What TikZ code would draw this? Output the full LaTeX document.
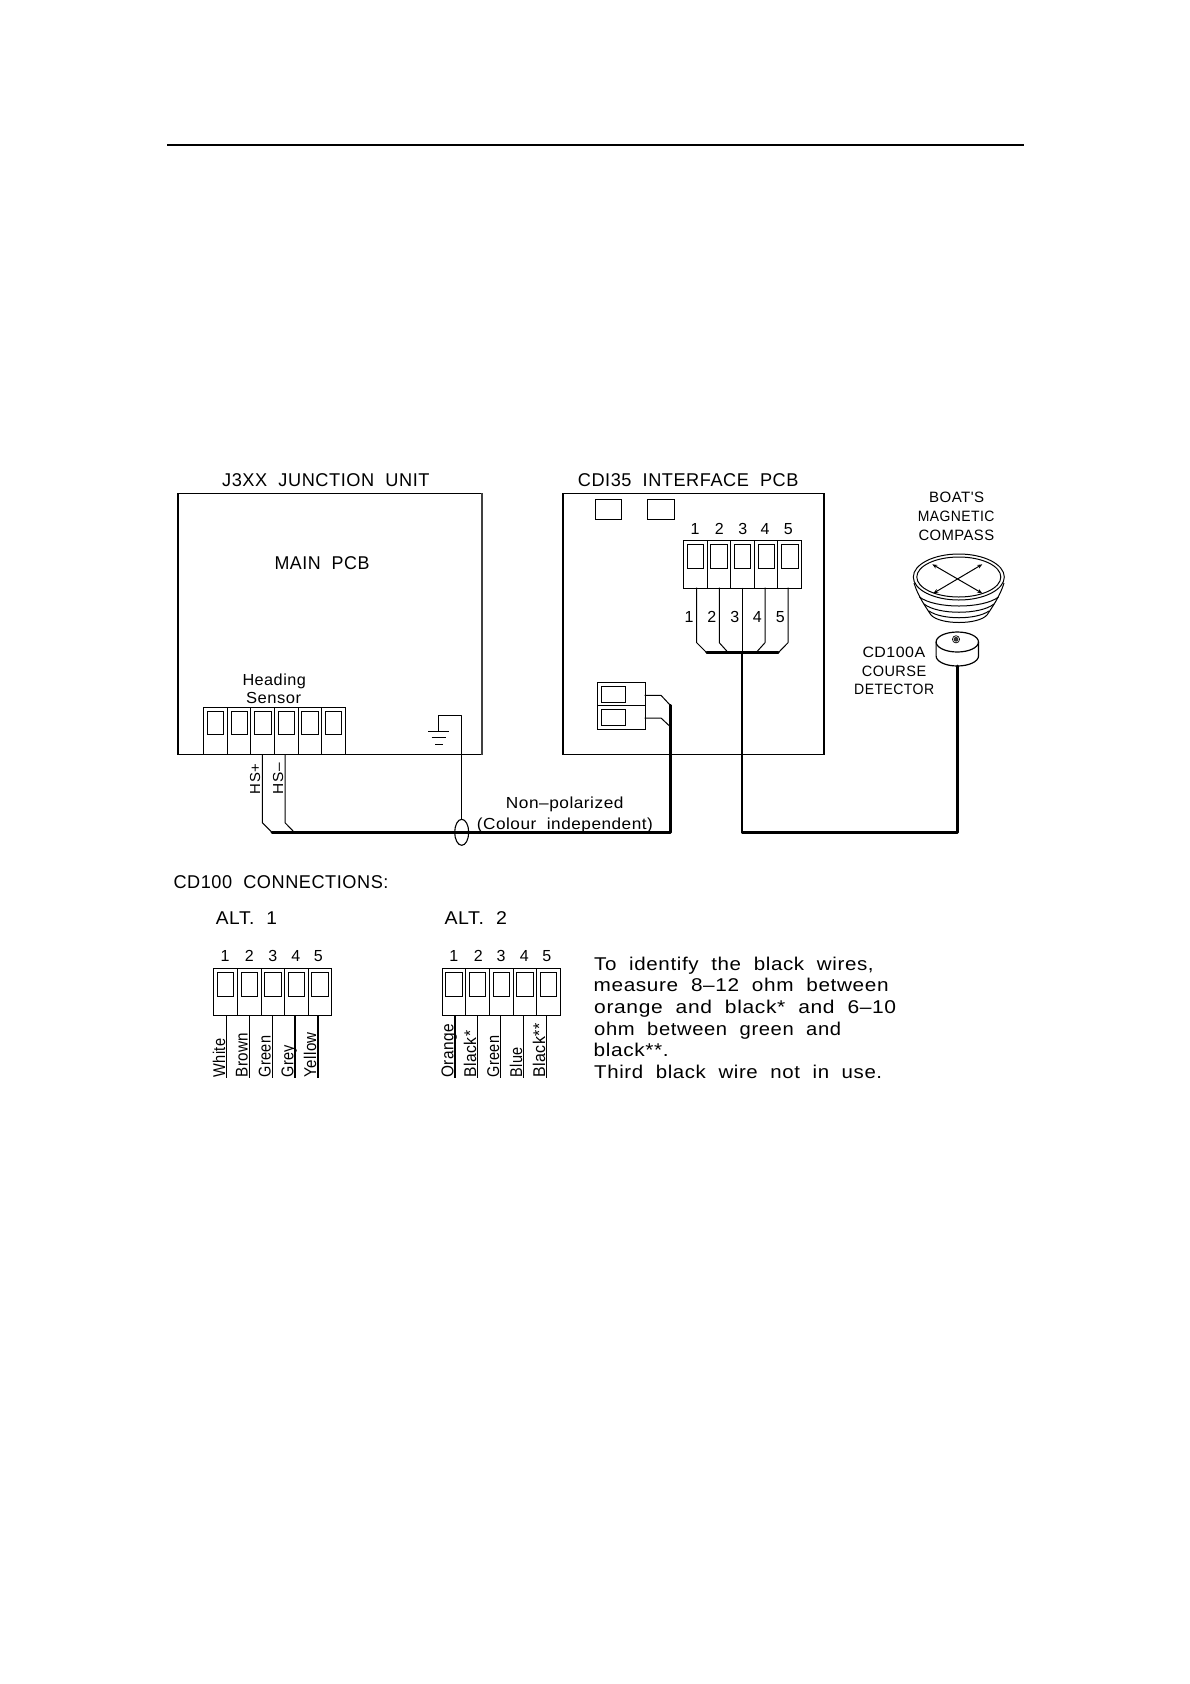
\documentclass[tikz,border=0pt]{standalone}
\usepackage{fontspec}
\usepackage{graphicx}
\usetikzlibrary{arrows.meta,shapes.geometric}
\newfontfamily\cadfont[LetterSpace=3]{Liberation Sans}
\newcommand{\fitw}[2]{\resizebox{#1pt}{\height}{\cadfont #2}}
\tikzset{
  thin wire/.style={line width=1pt,line join=round},
  thick wire/.style={line width=2.6pt,line join=round,line cap=round},
  board/.style={draw,line width=1.2pt,inner sep=0pt,anchor=north west},
  cell/.style={draw,line width=1pt,inner sep=0pt,anchor=north west},
  lbl/.style={inner sep=0pt,anchor=base west,font=\fontsize{16}{16}\selectfont},
  lblbig/.style={lbl,font=\fontsize{18.5}{18.5}\selectfont},
  lblsm/.style={lbl,font=\fontsize{15}{15}\selectfont},
  lblrot/.style={lbl,rotate=90,font=\fontsize{17}{17}\selectfont},
  lblhs/.style={lbl,rotate=90,font=\fontsize{14.5}{14.5}\selectfont},
  num/.style={inner sep=0pt,anchor=base,font=\cadfont\fontsize{16}{16}\selectfont},
}
\newcommand{\strip}[4]{%
  \foreach \i in {1,...,#4}{%
    \pgfmathsetmacro{\cx}{#2+(\i-1)*23.6}
    \node[cell,minimum width=23.6pt,minimum height=47.4pt] (#1-\i) at (\cx,#3) {};
    \pgfmathsetmacro{\ix}{\cx+3.7}
    \pgfmathsetmacro{\iy}{#3+3.9}
    \node[cell,minimum width=16.4pt,minimum height=24pt] (#1-in\i) at (\ix,\iy) {};
  }%
}
\begin{document}
\begin{tikzpicture}[x=1pt,y=-1pt]
\useasboundingbox (0,0) rectangle (1190,1684);
\fill[white] (0,0) rectangle (1190,1684);

% top rule
\coordinate (ruleL) at (167,144.7);
\coordinate (ruleR) at (1024,144.7);
\draw[line width=2pt] (ruleL) -- (ruleR);

% boards
\node[board,minimum width=303.7pt,minimum height=261pt] (j3xx) at (177.3,493) {};
\draw[line width=1.9pt,black!75] (j3xx.north east) -- (j3xx.south east);
\node[board,minimum width=261pt,minimum height=261pt] (cdi) at (562.3,493) {};
\node[cell,minimum width=26.3pt,minimum height=20pt] (cdiA) at (595,499.3) {};
\node[cell,minimum width=26.4pt,minimum height=20pt] (cdiB) at (647.3,499.3) {};

% titles
\node[lblbig] (t1) at (222,486.7) {\fitw{207.3}{J3XX\ \ JUNCTION\ \ UNIT}};
\node[lblbig] (t2) at (577.7,486.7) {\fitw{220.6}{CDI35\ \ INTERFACE\ \ PCB}};
\node[lblbig] (t3) at (274.3,569) {\fitw{95}{MAIN\ \ PCB}};
\node[lbl] (t4) at (242.3,685) {\fitw{63.4}{Heading}};
\node[lbl] (t5) at (246,703.3) {\fitw{55}{Sensor}};

% terminal strips, J3XX (six-way)
\foreach \i in {1,...,6}{
  \pgfmathsetmacro{\cx}{203.3+(\i-1)*23.55}
  \pgfmathsetmacro{\ix}{\cx+3.7}
  \node[cell,minimum width=23.55pt,minimum height=47pt] (hs-\i) at (\cx,707) {};
  \node[cell,minimum width=16.4pt,minimum height=23.7pt] (hs-in\i) at (\ix,710.7) {};
}
\strip{cd}{683}{540.3}{5}
\strip{aa}{213.3}{968}{5}
\strip{bb}{441.7}{968}{5}

% small 2-way connector
\node[cell,minimum width=47.4pt,minimum height=23pt] (sq1) at (597.3,682.3) {};
\node[cell,minimum width=47.4pt,minimum height=24pt] (sq2) at (597.3,705.3) {};
\node[cell,minimum width=24pt,minimum height=16pt] (sq1i) at (601,686.3) {};
\node[cell,minimum width=24pt,minimum height=16pt] (sq2i) at (601,709.3) {};

% ground
\coordinate (g0) at (438.3,731);
\coordinate (g1) at (438.3,715);
\coordinate (g2) at (461.7,715);
\node[draw,ellipse,line width=1.1pt,minimum width=14pt,minimum height=26pt,inner sep=0pt] (gland) at (461.7,832.3) {};
\draw[thin wire] (g0) -- (g1) -- (g2) -- (gland.north);
\coordinate (ga1) at (428,731); \coordinate (ga2) at (449.3,731);
\coordinate (gb1) at (431.7,737.3); \coordinate (gb2) at (446,737.3);
\coordinate (gc1) at (435.3,744); \coordinate (gc2) at (442.7,744);
\draw[thin wire] (ga1) -- (ga2) (gb1) -- (gb2) (gc1) -- (gc2);

% HS wires and trunk
\coordinate (hp0) at (262.3,754); \coordinate (hp1) at (262.3,822.7); \coordinate (hp2) at (272,832.3);
\coordinate (hm0) at (285,754);   \coordinate (hm1) at (285,822.7);   \coordinate (hm2) at (294.3,832.3);
\draw[thin wire] (hp0) -- (hp1) -- (hp2);
\draw[thin wire] (hm0) -- (hm1) -- (hm2);
\coordinate (tc) at (670.3,832.3);
\coordinate (tt) at (670.3,705.3);
\draw[thick wire] (hp2) -- (tc) -- (tt);
\node[lblhs] (hsp) at (260,794.3) {\fitw{30.3}{HS+}};
\node[lblhs] (hsm) at (283,794.3) {\fitw{31}{HS–}};

% 2-way connector wires
\coordinate (sa0) at (644.7,695.3); \coordinate (sa1) at (661,695.3);
\coordinate (sb0) at (644.7,718);   \coordinate (sb1) at (661,718); \coordinate (sb2) at (670.3,726.7);
\draw[thin wire] (sa0) -- (sa1) -- (tt);
\draw[thin wire] (sb0) -- (sb1) -- (sb2);

% CDI strip wires
\coordinate (c1a) at (696.7,587.7); \coordinate (c1b) at (696.7,642.7); \coordinate (c1c) at (706.7,652.7);
\coordinate (c2a) at (719.3,587.7); \coordinate (c2b) at (719.3,642.7); \coordinate (c2c) at (728.3,652.7);
\coordinate (c3a) at (742,587.7);   \coordinate (c3c) at (742,652.7);
\coordinate (c4a) at (765,587.7);   \coordinate (c4b) at (765,642.7);   \coordinate (c4c) at (756,652.7);
\coordinate (c5a) at (788,587.7);   \coordinate (c5b) at (788,642.7);   \coordinate (c5c) at (778.3,652.7);
\draw[thin wire] (c1a) -- (c1b) -- (c1c);
\draw[thin wire] (c2a) -- (c2b) -- (c2c);
\draw[thin wire] (c3a) -- (c3c);
\draw[thin wire] (c4a) -- (c4b) -- (c4c);
\draw[thin wire] (c5a) -- (c5b) -- (c5c);
\draw[thick wire] (c1c) -- (c5c);
\coordinate (d1) at (742,832.3);
\coordinate (d2) at (957.3,832.3);
\coordinate (d3) at (957.3,666);
\draw[thick wire] (c3c) -- (d1) -- (d2) -- (d3);

% numbers
\node[num] (n1) at (695,534) {1};
\node[num] (n2) at (719.3,534) {2};
\node[num] (n3) at (742.7,534) {3};
\node[num] (n4) at (765,534) {4};
\node[num] (n5) at (788.3,534) {5};
\node[num] (m1) at (689,622.7) {1};
\node[num] (m2) at (711.7,622.7) {2};
\node[num] (m3) at (734.7,622.7) {3};
\node[num] (m4) at (757.3,622.7) {4};
\node[num] (m5) at (780.3,622.7) {5};

\node[lbl] (np) at (505.7,808.3) {\fitw{117.6}{Non–polarized}};
\node[lbl] (ci) at (476.7,829) {\fitw{176}{(Colour\ \ independent)}};

% compass
\node[lblsm] (b1) at (929,502.7) {\fitw{55}{BOAT'S}};
\node[lblsm] (b2) at (917.7,521.7) {\fitw{76.6}{MAGNETIC}};
\node[lblsm] (b3) at (918.3,540.3) {\fitw{75.7}{COMPASS}};
\coordinate (cc) at (958.8,577);
\draw[line width=1pt] (cc) ellipse [x radius=45.5,y radius=23];
\draw[line width=1pt] (cc) ellipse [x radius=42,y radius=20];
\draw[line width=1pt] (914,583) .. controls (918,596) and (925,606) .. (931,615) .. controls (940,625) and (978,625) .. (987,615) .. controls (993,606) and (1000,596) .. (1004,583);
\draw[line width=1pt] (919.5,597) .. controls (935,609) and (983,609) .. (998.5,597);
\draw[line width=1pt] (924,604) .. controls (938,615) and (980,615) .. (994,604);
\draw[line width=1pt] (929,611) .. controls (942,620) and (976,620) .. (989,611);
\coordinate (ar1) at (932.3,564.3); \coordinate (ar2) at (982.3,564.3);
\coordinate (ar3) at (933.3,593.3); \coordinate (ar4) at (982.3,593.3);
\draw[line width=1pt,{Stealth[open,length=5pt,width=4pt]}-{Stealth[open,length=5pt,width=4pt]}] (ar1) -- (ar4);
\draw[line width=1pt,{Stealth[open,length=5pt,width=4pt]}-{Stealth[open,length=5pt,width=4pt]}] (ar2) -- (ar3);

% detector
\coordinate (dc) at (957.3,642);
\draw[line width=1.2pt] (dc) ellipse [x radius=21.2,y radius=10];
\draw[line width=1.2pt] (936.1,642) -- (936.1,656) arc[start angle=180,end angle=0,x radius=21.2,y radius=10] -- (978.5,642);
\fill[black!80] (956,639.3) circle (2.4);
\draw[line width=.7pt] (956,639.3) circle (3.6);
\node[lblsm] (e1) at (862.3,657.7) {\fitw{62.7}{CD100A}};
\node[lblsm] (e2) at (861.7,676.7) {\fitw{64.3}{COURSE}};
\node[lblsm] (e3) at (854,694.7) {\fitw{80}{DETECTOR}};

% CD100 connections
\node[lblbig] (h1) at (173.3,888.3) {\fitw{215}{CD100\ \ CONNECTIONS:}};
\node[lblbig] (h2) at (215.7,924.3) {\fitw{61}{ALT.\ \ 1}};
\node[lblbig] (h3) at (444.3,924.3) {\fitw{62.4}{ALT.\ \ 2}};
\node[num] (a1) at (225,961.7) {1};
\node[num] (a2) at (249.3,961.7) {2};
\node[num] (a3) at (272.7,961.7) {3};
\node[num] (a4) at (295.7,961.7) {4};
\node[num] (a5) at (318.3,961.7) {5};
\node[num] (f1) at (453.7,961.7) {1};
\node[num] (f2) at (478.3,961.7) {2};
\node[num] (f3) at (501,961.7) {3};
\node[num] (f4) at (524.3,961.7) {4};
\node[num] (f5) at (546.7,961.7) {5};

\foreach \nm/\x/\w in {p1/226.7/1,p2/249.7/1,p3/272.7/1,p4/295/1.8,p5/317.7/1.8,q1/455/1.8,q2/477.7/1,q3/500.7/1,q4/523.7/1,q5/546.7/1}{
  \coordinate (\nm t) at (\x,1015.4);
  \coordinate (\nm b) at (\x,1077.7);
  \draw[line width=\w pt] (\nm t) -- (\nm b);
}
\node[lblrot] (w1) at (225,1077.7) {\fitw{39}{White}};
\node[lblrot] (w2) at (247.7,1077.7) {\fitw{45}{Brown}};
\node[lblrot] (w3) at (270.7,1077.7) {\fitw{42}{Green}};
\node[lblrot] (w4) at (293.3,1077.7) {\fitw{32.7}{Grey}};
\node[lblrot] (w5) at (316,1077.7) {\fitw{45.3}{Yellow}};
\node[lblrot] (x1) at (453.3,1077.7) {\fitw{53.7}{Orange}};
\node[lblrot] (x2) at (476,1077.7) {\fitw{46.7}{Black*}};
\node[lblrot] (x3) at (499,1077.7) {\fitw{42}{Green}};
\node[lblrot] (x4) at (522,1077.7) {\fitw{30.3}{Blue}};
\node[lblrot] (x5) at (545,1077.7) {\fitw{54.3}{Black**}};

% note
\node[lblbig] (l1) at (594,970) {\fitw{279.5}{To\ \ identify\ \ the\ \ black\ \ wires,}};
\node[lblbig] (l2) at (593.5,991.7) {\fitw{295}{measure\ \ 8–12\ \ ohm\ \ between}};
\node[lblbig] (l3) at (594,1013.7) {\fitw{302}{orange\ \ and\ \ black*\ \ and\ \ 6–10}};
\node[lblbig] (l4) at (594,1035) {\fitw{247}{ohm\ \ between\ \ green\ \ and}};
\node[lblbig] (l5) at (593.5,1056.7) {\fitw{75}{black**.}};
\node[lblbig] (l6) at (594,1078.3) {\fitw{288}{Third\ \ black\ \ wire\ \ not\ \ in\ \ use.}};
\end{tikzpicture}
\end{document}
